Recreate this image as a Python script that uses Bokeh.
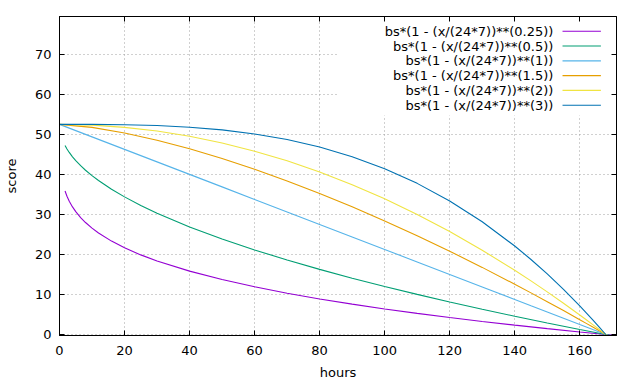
from bokeh.plotting import figure
from bokeh.models import (Range1d, LinearAxis, FixedTicker, Label, BoxAnnotation,
                          CustomLabelingPolicy)
from bokeh.embed import file_html
from bokeh.resources import INLINE

# ---- data ----
hours_low = [1.7, 2.3, 3, 4, 5, 6.5, 8, 10, 12, 16, 20, 25, 30, 40, 50, 60, 70, 80,
             90, 100, 110, 120, 130, 140, 150, 160, 164, 168, 171]
score_p025 = [35.92, 34.61, 33.37, 31.94, 30.75, 29.27, 28.03, 26.62, 25.41, 23.38,
              21.70, 19.93, 18.41, 15.86, 13.75, 11.94, 10.34, 8.90, 7.60, 6.40,
              5.28, 4.24, 3.27, 2.34, 1.47, 0.64, 0.32, 0.0, -0.23]
score_p05 = [47.31, 46.45, 45.57, 44.48, 43.53, 42.25, 41.12, 39.77, 38.54, 36.37,
             34.45, 32.31, 30.37, 26.93, 23.90, 21.17, 18.65, 16.30, 14.10, 12.02,
             10.04, 8.15, 6.33, 4.58, 2.90, 1.27, 0.63, 0.0, -0.47]

hours_full = [0, 10, 20, 30, 40, 50, 60, 70, 80, 90, 100, 110, 120, 130, 140,
              145, 150, 155, 160, 162, 164, 166, 168, 171]
score_p1 = [52.6, 49.47, 46.34, 43.21, 40.08, 36.95, 33.81, 30.68, 27.55, 24.42,
            21.29, 18.16, 15.03, 11.90, 8.77, 7.20, 5.64, 4.07, 2.50, 1.88, 1.25,
            0.63, 0.0, -0.94]
score_p15 = [52.6, 51.84, 50.44, 48.63, 46.49, 44.06, 41.37, 38.45, 35.32, 31.98,
             28.44, 24.73, 20.85, 16.80, 12.59, 10.42, 8.22, 5.99, 3.71, 2.79, 1.87,
             0.94, 0.0, -1.42]
score_p2 = [52.6, 52.41, 51.85, 50.92, 49.62, 47.94, 45.89, 43.47, 40.67, 37.50,
            33.96, 30.05, 25.76, 21.10, 16.07, 13.42, 10.67, 7.83, 4.89, 3.69, 2.47,
            1.24, 0.0, -1.90]
score_p3 = [52.6, 52.59, 52.51, 52.30, 51.89, 51.21, 50.20, 48.80, 46.92, 44.51,
            41.51, 37.83, 33.43, 28.23, 22.16, 18.78, 15.16, 11.29, 7.16, 5.44, 3.67,
            1.86, 0.0, -2.87]

labels = [
    "bs*(1 - (x/(24*7))**(0.25))",
    "bs*(1 - (x/(24*7))**(0.5))",
    "bs*(1 - (x/(24*7))**(1))",
    "bs*(1 - (x/(24*7))**(1.5))",
    "bs*(1 - (x/(24*7))**(2))",
    "bs*(1 - (x/(24*7))**(3))",
]
colors = ["#9400d3", "#009e73", "#56b4e9", "#e69f00", "#f0e442", "#0072b2"]
x_ticks = [0, 20, 40, 60, 80, 100, 120, 140, 160]
y_ticks = [0, 10, 20, 30, 40, 50, 60, 70]

series = [
    (hours_low, score_p025),
    (hours_low, score_p05),
    (hours_full, score_p1),
    (hours_full, score_p15),
    (hours_full, score_p2),
    (hours_full, score_p3),
]

FONT = "DejaVu Sans"
FS = "13px"

p = figure(width=640, height=384, output_backend="svg", toolbar_location=None,
           x_range=Range1d(0, 171.3), y_range=Range1d(-0.25, 79.6),
           min_border_left=59, min_border_right=24, min_border_top=16,
           min_border_bottom=49)
p.background_fill_color = "white"
p.border_fill_color = "white"
p.outline_line_color = "black"

# axes
for ax, ticks in ((p.xaxis[0], x_ticks), (p.yaxis[0], y_ticks)):
    ax.ticker = FixedTicker(ticks=ticks)
    ax.major_tick_in = 5
    ax.major_tick_out = 0
    ax.minor_tick_in = 0
    ax.minor_tick_out = 0
    ax.axis_line_color = "black"
    ax.major_tick_line_color = "black"
    ax.major_label_text_font = FONT
    ax.major_label_text_font_size = FS
    ax.major_label_text_color = "black"
    ax.axis_label_text_font = FONT
    ax.axis_label_text_font_size = FS
    ax.axis_label_text_font_style = "normal"
    ax.axis_label_text_color = "black"

p.xaxis[0].axis_label = "hours"
p.yaxis[0].axis_label = "score"
p.xaxis[0].major_label_standoff = 10
p.xaxis[0].axis_label_standoff = 7
p.yaxis[0].major_label_standoff = 8
p.yaxis[0].axis_label_standoff = 13

# mirrored tick marks on top and right (no labels)
no_labels = CustomLabelingPolicy(code="for (const i of indices) { if (false) yield i }")
for loc, ticks in (("above", x_ticks), ("right", y_ticks)):
    ax = LinearAxis(ticker=FixedTicker(ticks=ticks), major_label_policy=no_labels)
    ax.major_tick_in = 5
    ax.major_tick_out = 0
    ax.minor_tick_in = 0
    ax.minor_tick_out = 0
    ax.major_label_standoff = 0
    ax.axis_line_color = "black"
    p.add_layout(ax, loc)

# grid
for g, ticks in ((p.xgrid[0], x_ticks), (p.ygrid[0], y_ticks)):
    g.ticker = FixedTicker(ticks=ticks)
    g.grid_line_color = "#a0a0a0"
    g.grid_line_dash = "1 3"
    g.grid_line_width = 1
    g.level = "image"

# opaque key background (hides grid behind the key)
key_bg = BoxAnnotation(left=85.8, bottom=54.8, fill_color="white", fill_alpha=1.0,
                       line_color=None, level="underlay")
p.add_layout(key_bg)

# curves
for (xs, ys), c in zip(series, colors):
    p.line(xs, ys, line_color=c, line_width=1.1)

# key (text right-aligned, sample line to the right)
key_text_x = 151.9
key_line_x0, key_line_x1 = 154.7, 166.5
key_y0, key_dy = 75.9, 3.7
for i, (lab, c) in enumerate(zip(labels, colors)):
    yy = key_y0 - i * key_dy
    p.add_layout(Label(x=key_text_x, y=yy, text=lab, text_align="right",
                       text_baseline="middle", text_font=FONT, text_font_size=FS,
                       text_color="black"))
    p.segment(x0=[key_line_x0], y0=[yy], x1=[key_line_x1], y1=[yy],
              line_color=c, line_width=1.1)

open("out.html", "w").write(file_html(p, INLINE))
